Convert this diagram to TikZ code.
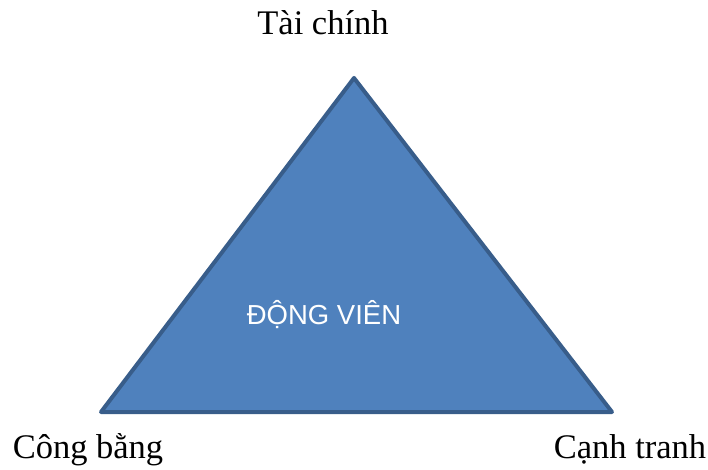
\documentclass[tikz,border=0pt]{standalone}
\usepackage{fontspec}
\setmainfont{Liberation Serif}
\newfontfamily\arialf{Liberation Sans}
\definecolor{trifill}{HTML}{4F81BD}
\definecolor{triedge}{HTML}{385D8A}
\begin{document}
\begin{tikzpicture}[x=1pt,y=1pt,
  lbl/.style={font=\fontsize{34.5}{40}\selectfont, inner sep=0pt, anchor=base},
  inlbl/.style={font=\arialf\fontsize{27.5}{32}\selectfont, text=white, inner sep=0pt, anchor=base}]
\useasboundingbox (0,0) rectangle (708,469);
\coordinate (top) at (354,391);
\coordinate (bl) at (101,57);
\coordinate (br) at (612,57);
\draw[line width=4pt, line join=round, fill=trifill, draw=triedge] (top) -- (br) -- (bl) -- cycle;
\node[inlbl] (center) at (324,145) {ĐỘNG VIÊN};
\node[lbl] (t) at (323,434) {Tài chính};
\node[lbl] (l) at (88,11) {Công bằng};
\node[lbl] (r) at (630,11) {Cạnh tranh};
\end{tikzpicture}
\end{document}
